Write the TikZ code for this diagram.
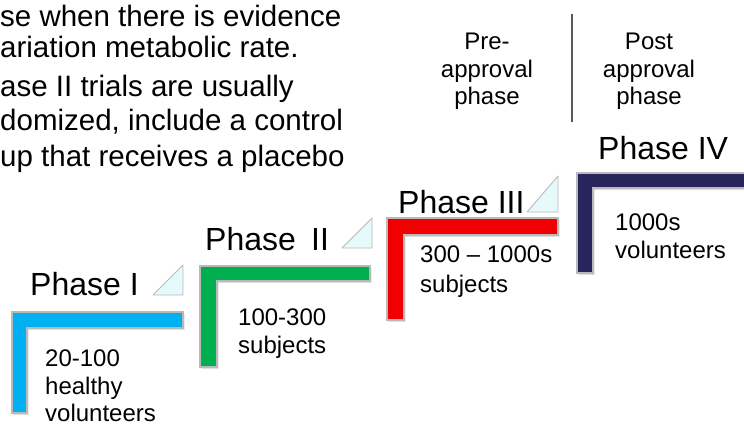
\documentclass[tikz,border=0pt]{standalone}
\usepackage{fontspec}
\setmainfont{Liberation Sans}
\definecolor{phblue}{RGB}{0,176,240}
\definecolor{phgreen}{RGB}{0,176,80}
\definecolor{phred}{RGB}{240,0,0}
\definecolor{phnavy}{RGB}{40,36,92}
\definecolor{trifill}{RGB}{230,250,252}
\definecolor{edgegray}{RGB}{185,185,185}
\begin{document}
\begin{tikzpicture}[x=1pt,y=-1pt,
  para/.style={anchor=base west,inner sep=0pt,font=\fontsize{29.5}{35}\selectfont},
  head/.style={anchor=base west,inner sep=0pt,font=\fontsize{32}{38}\selectfont},
  body/.style={anchor=base west,inner sep=0pt,font=\fontsize{24}{29}\selectfont},
  toplbl/.style={anchor=base,inner sep=0pt,font=\fontsize{24}{28}\selectfont},
  lbar/.style={draw=edgegray,line width=1.2pt,line join=miter},
  tri/.style={fill=trifill,draw=edgegray,line width=0.9pt,line join=round}]
\useasboundingbox (0,0) rectangle (744,425);
\clip (0,0) rectangle (744,425);
% top-left paragraph
\node[para] (p1) at (0,27) {se when there is evidence};
\node[para] (p2) at (0,58) {ariation metabolic rate.};
\node[para] (p3) at (0,97) {ase II trials are usually};
\node[para] (p4) at (0,131) {domized, include a control};
\node[para] (p5) at (0,166) {up that receives a placebo};
% approval labels
\node[toplbl] (pre1) at (487,50) {Pre-};
\node[toplbl] (pre2) at (487,78) {approval};
\node[toplbl] (pre3) at (487,105) {phase};
\node[toplbl] (post1) at (649,50) {Post};
\node[toplbl] (post2) at (649,78) {approval};
\node[toplbl] (post3) at (649,105) {phase};
\coordinate (divtop) at (572,14);
\coordinate (divbot) at (572,122);
\draw[line width=1.5pt,color=black!65] (divtop) -- (divbot);
% shadows
\fill[black!12] (13.5,314) -- (184.5,314) -- (184.5,330) -- (28.5,330) -- (28.5,415) -- (13.5,415) -- cycle;
\fill[black!12] (201.5,268) -- (371.5,268) -- (371.5,283) -- (218.5,283) -- (218.5,369) -- (201.5,369) -- cycle;
\fill[black!12] (388.5,220) -- (559.5,220) -- (559.5,237) -- (405.5,237) -- (405.5,322) -- (388.5,322) -- cycle;
\fill[black!12] (578.5,175) -- (752,175) -- (752,190) -- (594.5,190) -- (594.5,275) -- (578.5,275) -- cycle;
% L bars
\filldraw[lbar,fill=phblue] (12,312) -- (183,312) -- (183,328) -- (27,328) -- (27,413) -- (12,413) -- cycle;
\filldraw[lbar,fill=phgreen] (200,266) -- (370,266) -- (370,281) -- (217,281) -- (217,367) -- (200,367) -- cycle;
\filldraw[lbar,fill=phred] (387,218) -- (558,218) -- (558,235) -- (404,235) -- (404,320) -- (387,320) -- cycle;
\filldraw[lbar,fill=phnavy] (577,173) -- (752,173) -- (752,188) -- (593,188) -- (593,273) -- (577,273) -- cycle;
% triangles
\filldraw[tri] (153,295) -- (183,265) -- (183,295) -- cycle;
\filldraw[tri] (342,248) -- (372,218) -- (372,248) -- cycle;
\filldraw[tri] (527,212) -- (558,176) -- (558,212) -- cycle;
% headings
\node[head] (h1) at (30,295) {Phase I};
\node[head] (h2) at (205,250) {Phase\hspace{0.2em} II};
\node[head] (h3) at (398,213) {Phase III};
\node[head] (h4) at (598,159) {Phase IV};
% bodies
\node[body] (b1a) at (45,366) {20-100};
\node[body] (b1b) at (45,394) {healthy};
\node[body] (b1c) at (45,421) {volunteers};
\node[body] (b2a) at (238,325) {100-300};
\node[body] (b2b) at (238,353) {subjects};
\node[body] (b3a) at (420,262) {300 – 1000s};
\node[body] (b3b) at (420,292) {subjects};
\node[body] (b4a) at (615,230) {1000s};
\node[body] (b4b) at (615,258) {volunteers};
\end{tikzpicture}
\end{document}
